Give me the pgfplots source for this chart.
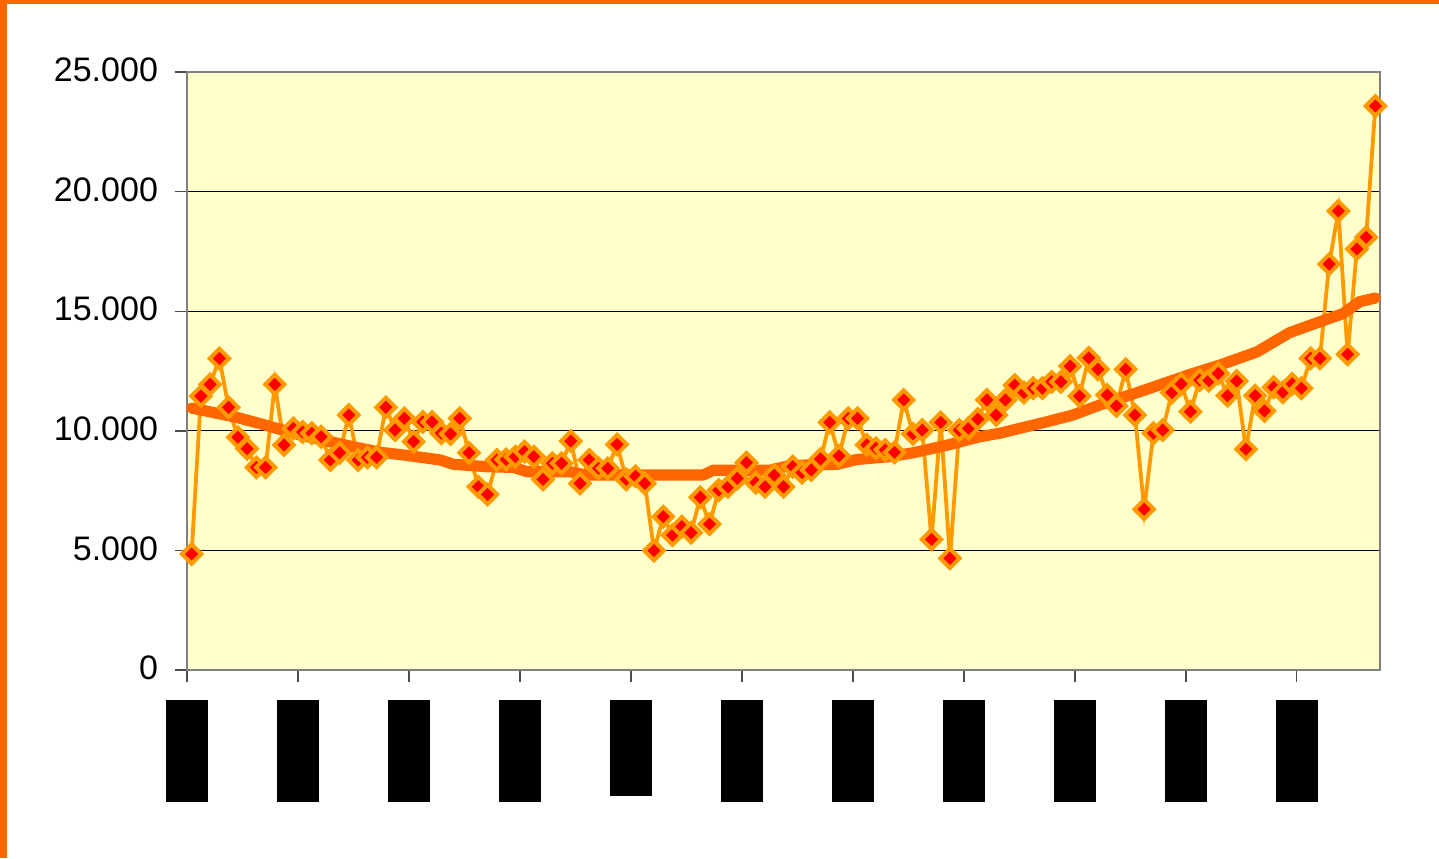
\documentclass[border=0pt]{standalone}
\usepackage{fontspec}
\setmainfont{Liberation Sans}
\usepackage{pgfplots}
\usepackage{pgfplotstable}
\pgfplotsset{compat=1.18}
\definecolor{frameor}{HTML}{FF6600}
\definecolor{trendor}{HTML}{FF6600}
\definecolor{lineor}{HTML}{FF9900}
\definecolor{plotbg}{HTML}{FFFFCC}
\pgfplotstableread{
v
4850
11450
11940
13020
10980
9730
9250
8470
8470
11940
9410
10100
9950
9900
9750
8780
9080
10660
8780
8890
8890
10980
10030
10520
9550
10370
10370
9900
9870
10520
9080
7660
7340
8780
8800
8920
9130
8920
7970
8640
8640
9570
7800
8780
8430
8430
9430
7970
8100
7800
4990
6410
5640
5990
5740
7220
6100
7520
7660
8010
8670
7830
7660
8150
7660
8500
8250
8360
8820
10350
8950
10520
10520
9410
9270
9200
9100
11290
9870
10030
5460
10350
4670
10030
10100
10490
11290
10660
11290
11910
11600
11780
11780
12050
12050
12700
11450
13050
12570
11500
11040
12570
10660
6720
9900
10030
11600
11960
10800
12120
12100
12400
11470
12080
9230
11470
10830
11820
11610
11960
11780
13030
13030
16970
19190
13200
17600
18090
23580
}\datatable
\pgfplotstableread{
x y
0 10950
4.9 10560
7.4 10300
10.6 9950
12 9800
17.4 9340
20.4 9100
22.9 8990
26.9 8780
28.3 8600
31.9 8500
34.8 8470
36.3 8290
40.9 8290
42.7 8150
55.3 8150
56.4 8350
62.5 8350
64.7 8550
69.8 8600
71.9 8800
75.5 8920
78 9080
81.7 9400
85.2 9750
87.4 9900
92.5 10380
95.3 10660
98.2 11080
102.5 11630
107.9 12350
111.2 12750
115.2 13300
118.7 14100
122.3 14600
124.5 14900
126.3 15400
128 15550
}\trendtable
\begin{document}
\begin{tikzpicture}
\fill[white] (0,0) rectangle (719.5pt,429pt);
\fill[frameor] (0,0) rectangle (3.5pt,429pt);
\fill[frameor] (0,427pt) rectangle (719.5pt,429pt);
\begin{axis}[
  at={(93.5pt,94pt)}, anchor=south west,
  width=596.5pt, height=299pt, scale only axis,
  xmin=-0.5, xmax=128.5, ymin=0, ymax=25000,
  axis background/.style={fill=plotbg},
  axis line style={draw=black!50, line width=1.3pt},
  ymajorgrids, grid style={black, line width=0.5pt},
  ytick={0,5000,10000,15000,20000,25000},
  xtick={-0.5,11.5,23.5,35.5,47.5,59.5,71.5,83.5,95.5,107.5,119.5},
  xticklabels={\rule{21pt}{51pt},\rule{21pt}{51pt},\rule{21pt}{51pt},\rule{21pt}{51pt},\rule{21pt}{48pt},\rule{21pt}{51pt},\rule{21pt}{51pt},\rule{21pt}{51pt},\rule{21pt}{51pt},\rule{21pt}{51pt},\rule{21pt}{51pt}},
  xtick pos=bottom, ytick pos=left,
  tick align=outside, major tick length=6pt,
  tick style={black!70, line width=0.7pt},
  scaled y ticks=false,
  /pgf/number format/fixed,
  /pgf/number format/1000 sep={.},
  /pgf/number format/assume math mode=true,
  yticklabel style={font=\fontsize{17}{20}\selectfont, xshift=-5pt, yshift=1pt},
  xticklabel style={inner sep=0pt, yshift=-9pt},
  clip=false,
]
\addplot[color=lineor, line width=1.9pt, mark=square*,
  mark size=3.4pt,
  mark options={rotate=45, fill=red, draw=lineor, line width=2pt, line join=miter}]
  table[x expr=\coordindex, y=v] {\datatable};
\addplot[color=trendor, line width=5.6pt, line cap=round, line join=round, no marks]
  table[x=x, y=y] {\trendtable};
\end{axis}
\pgfresetboundingbox
\path (0,0) rectangle (719.5pt,429pt);
\end{tikzpicture}
\end{document}
